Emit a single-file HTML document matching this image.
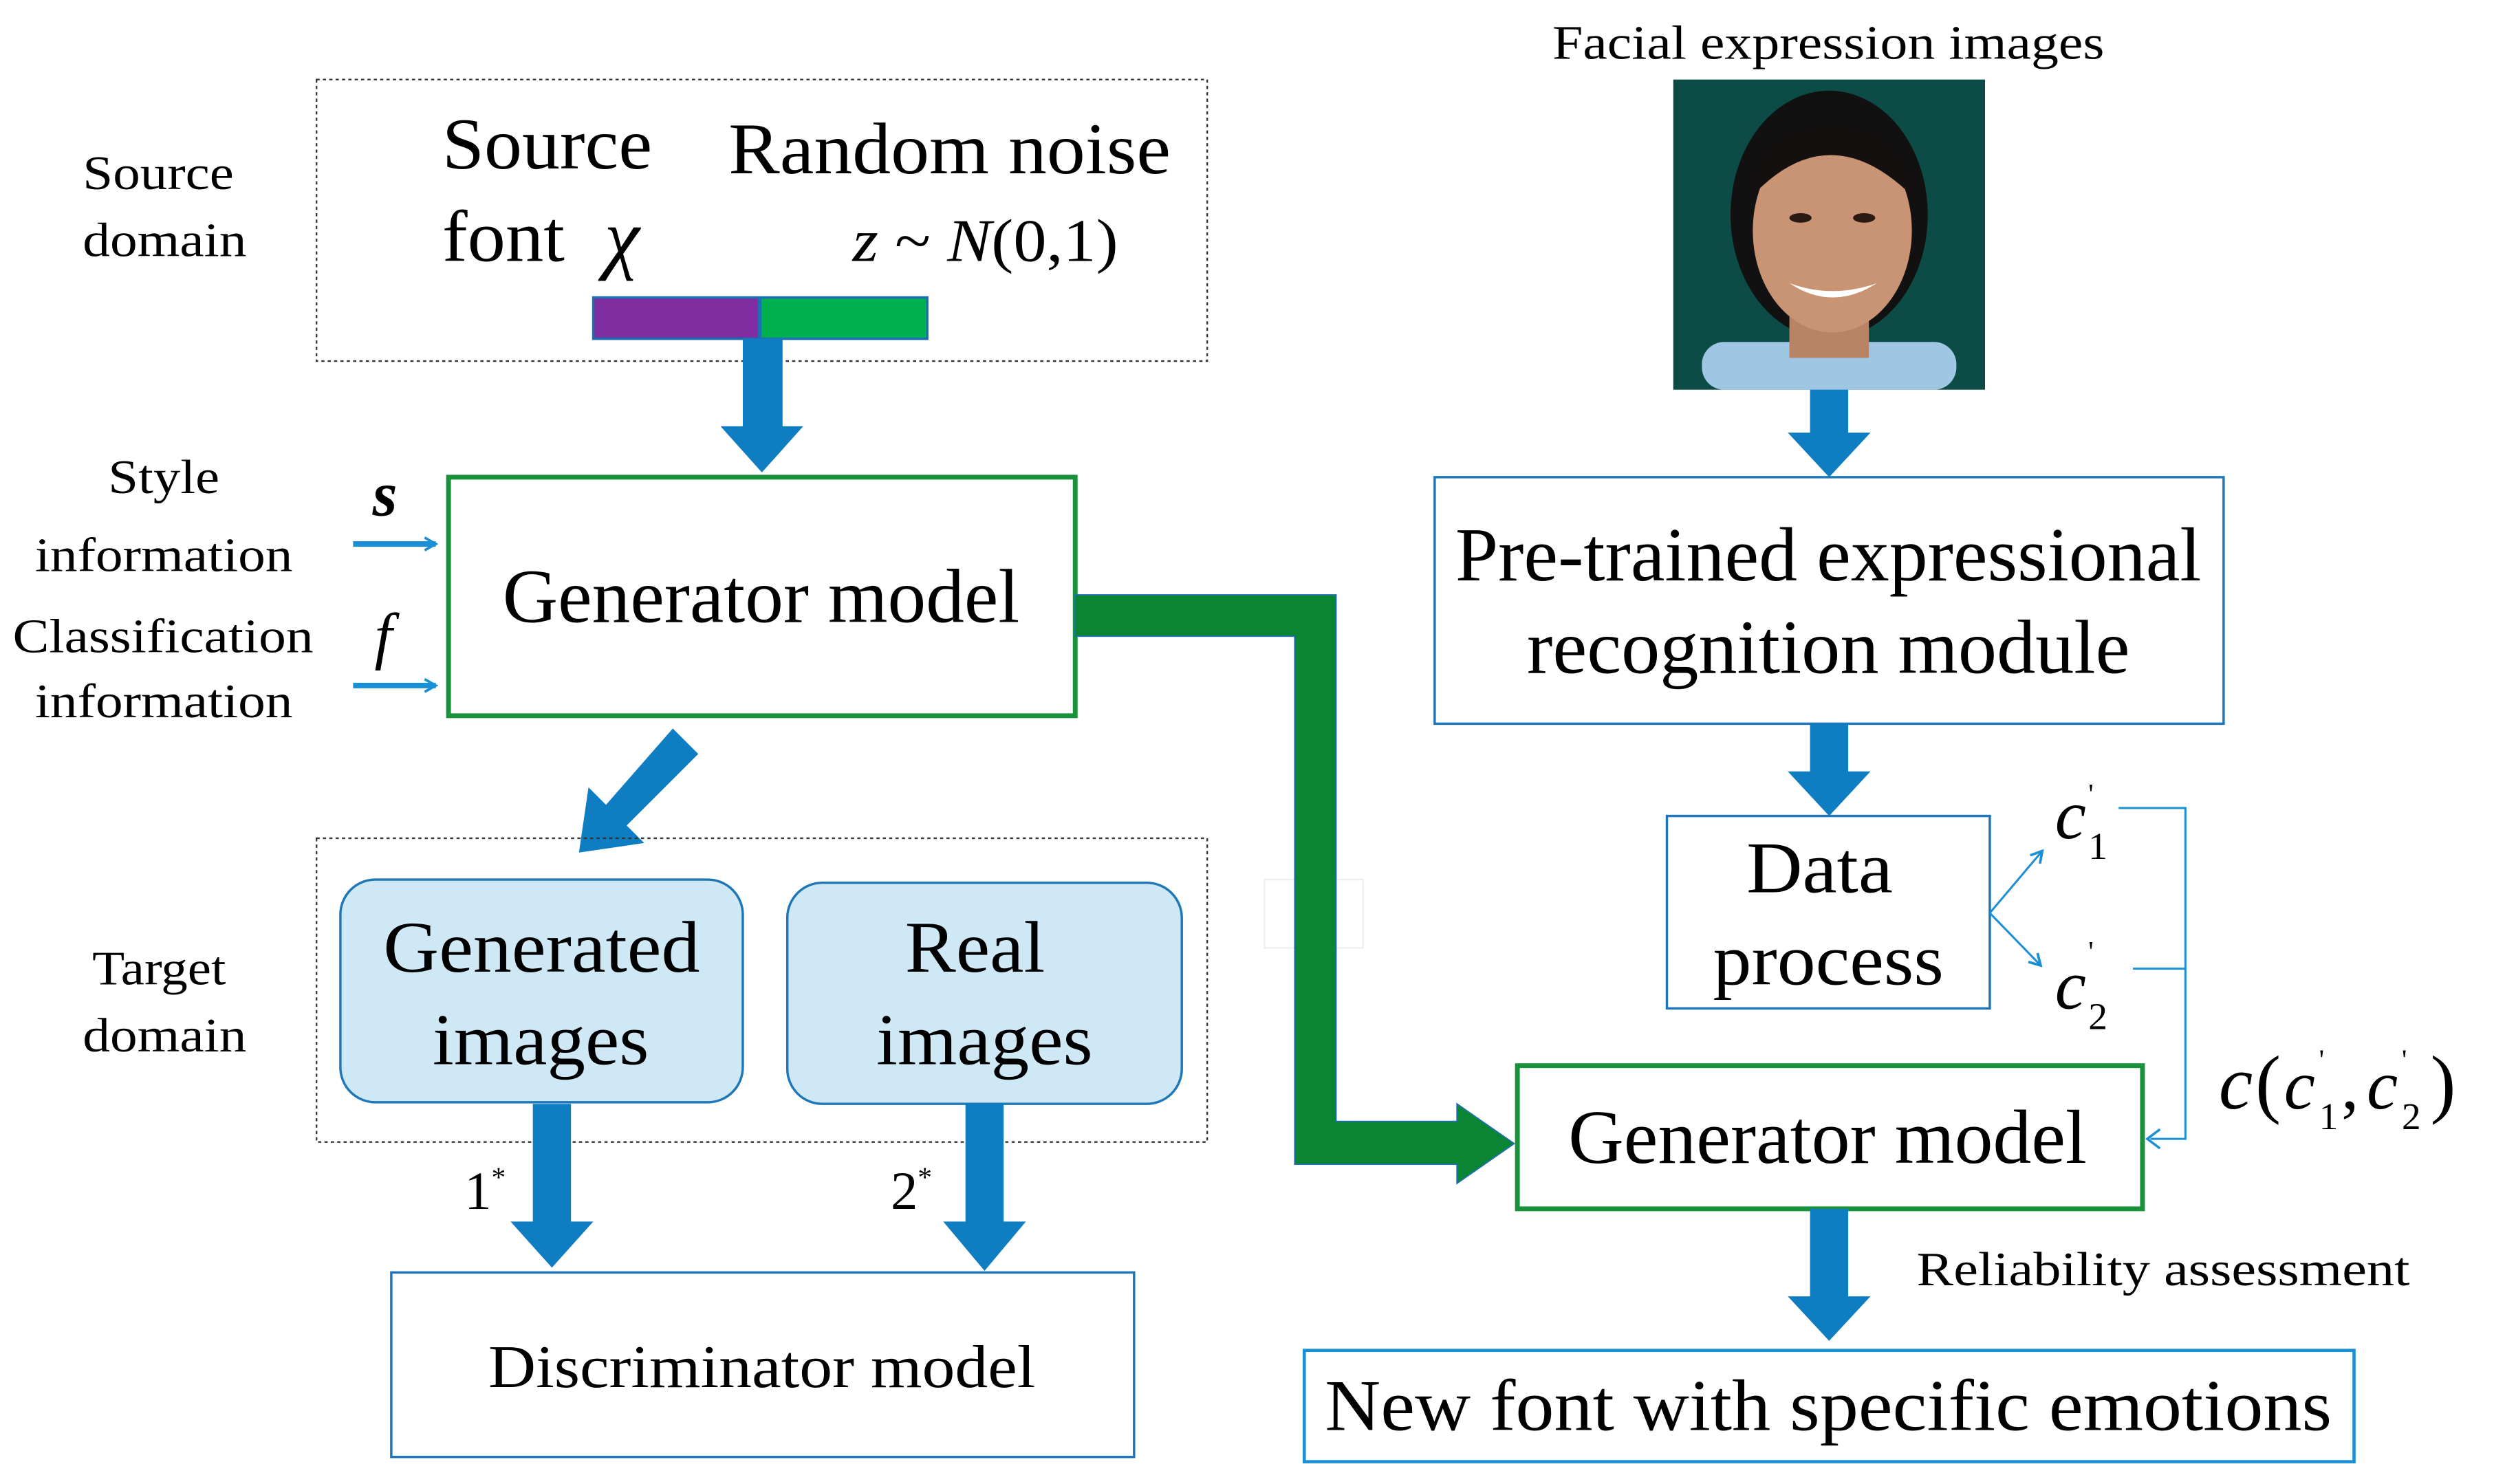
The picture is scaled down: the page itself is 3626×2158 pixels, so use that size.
<!DOCTYPE html>
<html><head><meta charset="utf-8"><style>
html,body{margin:0;padding:0;background:#fff;}
svg{display:block;}
text{font-family:"Liberation Serif",serif;fill:#000;}
</style></head><body>
<svg width="3626" height="2158" viewBox="0 0 1568 933" preserveAspectRatio="none" xmlns="http://www.w3.org/2000/svg">
<defs>
<marker id="ah" markerWidth="10" markerHeight="10" refX="8" refY="5" orient="auto" markerUnits="userSpaceOnUse">
<path d="M1,1 L8,5 L1,9" fill="none" stroke="#1a8fd6" stroke-width="1.6"/></marker>
</defs>
<!-- Source domain -->
<rect x="199" y="50" width="560" height="177" fill="none" stroke="#333" stroke-width="1" stroke-dasharray="2,2"/>
<text x="52" y="119" font-size="30" textLength="95" lengthAdjust="spacingAndGlyphs">Source</text>
<text x="52" y="161" font-size="30" textLength="103" lengthAdjust="spacingAndGlyphs">domain</text>
<text x="278" y="106" font-size="46" textLength="132" lengthAdjust="spacingAndGlyphs">Source</text>
<text x="278" y="164" font-size="46" textLength="77" lengthAdjust="spacingAndGlyphs">font</text>
<text x="380" y="166" font-size="50" font-style="italic">χ</text>
<text x="458" y="109" font-size="46" textLength="278" lengthAdjust="spacingAndGlyphs">Random noise</text>
<text x="536" y="164" font-size="38" textLength="167" lengthAdjust="spacingAndGlyphs"><tspan font-style="italic">z</tspan> ~ <tspan font-style="italic">N</tspan>(0,1)</text>
<rect x="373" y="187" width="104" height="26" fill="#7f2da0" stroke="#1a6fb5" stroke-width="1.5"/>
<rect x="478" y="187" width="105" height="26" fill="#00b050" stroke="#1a6fb5" stroke-width="1.5"/>
<path d="M467,213 H492 V268 H505 L479,297 L453,268 H467 Z" fill="#0f7dc2"/>
<!-- Gen 1 -->
<rect x="282" y="300" width="394" height="150" fill="#fff" stroke="#17923a" stroke-width="3"/>
<text x="316" y="391" font-size="48" textLength="325" lengthAdjust="spacingAndGlyphs">Generator model</text>
<text x="68" y="310" font-size="30" textLength="70" lengthAdjust="spacingAndGlyphs">Style</text>
<text x="22" y="359" font-size="30" textLength="162" lengthAdjust="spacingAndGlyphs">information</text>
<text x="8" y="410" font-size="30" textLength="189" lengthAdjust="spacingAndGlyphs">Classification</text>
<text x="22" y="451" font-size="30" textLength="162" lengthAdjust="spacingAndGlyphs">information</text>
<text x="242" y="324" font-size="40" font-style="italic" font-weight="bold" text-anchor="middle">s</text>
<text x="241" y="413" font-size="40" font-style="italic" text-anchor="middle">f</text>
<line x1="222" y1="342" x2="274" y2="342" stroke="#1a8fd6" stroke-width="3.5" marker-end="url(#ah)"/>
<line x1="222" y1="431" x2="274" y2="431" stroke="#1a8fd6" stroke-width="3.5" marker-end="url(#ah)"/>
<!-- diagonal arrow -->
<path d="M423,458 L439,474 L394,519 L405,530 L364,536 L370,495 L381,506 Z" fill="#0f7dc2"/>
<!-- Target domain -->
<rect x="199" y="527" width="560" height="191" fill="none" stroke="#333" stroke-width="1" stroke-dasharray="2,2"/>
<text x="58" y="619" font-size="30" textLength="84" lengthAdjust="spacingAndGlyphs">Target</text>
<text x="52" y="661" font-size="30" textLength="103" lengthAdjust="spacingAndGlyphs">domain</text>
<rect x="214" y="553" width="253" height="140" rx="22" fill="#cfe8f6" stroke="#1f77b8" stroke-width="1.5"/>
<text x="241" y="611" font-size="46" textLength="199" lengthAdjust="spacingAndGlyphs">Generated</text>
<text x="272" y="669" font-size="46" textLength="136" lengthAdjust="spacingAndGlyphs">images</text>
<rect x="495" y="555" width="248" height="139" rx="22" fill="#cfe8f6" stroke="#1f77b8" stroke-width="1.5"/>
<text x="569" y="611" font-size="46" textLength="88" lengthAdjust="spacingAndGlyphs">Real</text>
<text x="551" y="669" font-size="46" textLength="136" lengthAdjust="spacingAndGlyphs">images</text>
<path d="M335,694 H359 V768 H373 L347,797 L321,768 H335 Z" fill="#0f7dc2"/>
<path d="M607,694 H631 V768 H645 L619,799 L593,768 H607 Z" fill="#0f7dc2"/>
<text x="292" y="760" font-size="34">1<tspan font-size="18" dy="-14">*</tspan></text>
<text x="560" y="760" font-size="34">2<tspan font-size="18" dy="-14">*</tspan></text>
<rect x="246" y="800" width="467" height="116" fill="#fff" stroke="#1f77b8" stroke-width="1.5"/>
<text x="307" y="872" font-size="38" textLength="344" lengthAdjust="spacingAndGlyphs">Discriminator model</text>
<!-- faint box -->
<rect x="795" y="553" width="62" height="43" fill="none" stroke="#eee" stroke-width="1"/>
<!-- green L arrow -->
<path d="M676,374 H840 V705 H916 V694 L952,719 L916,744 V732 H814 V400 H676 Z" fill="#0a8534" stroke="#1f6fb0" stroke-width="0.8"/>
<!-- right side -->
<text x="976" y="37" font-size="30" textLength="347" lengthAdjust="spacingAndGlyphs">Facial expression images</text>
<g>
<rect x="1052" y="50" width="196" height="195" fill="#0d4b46"/>
<ellipse cx="1150" cy="135" rx="62" ry="78" fill="#111"/>
<rect x="1070" y="215" width="160" height="30" rx="14" fill="#9fc6e3"/>
<path d="M1125,185 h50 v40 h-50 z" fill="#b98466"/>
<ellipse cx="1152" cy="145" rx="50" ry="64" fill="#c99473"/>
<path d="M1100,125 Q1150,70 1204,125 Q1200,80 1150,78 Q1102,82 1100,125 Z" fill="#151010"/>
<path d="M1125,178 Q1152,196 1180,178 Q1152,188 1125,178 Z" fill="#fff"/>
<ellipse cx="1132" cy="137" rx="7" ry="3" fill="#2a1a14"/>
<ellipse cx="1172" cy="137" rx="7" ry="3" fill="#2a1a14"/>
</g>
<path d="M1138,245 H1162 V272 H1176 L1150,300 L1124,272 H1138 Z" fill="#0f7dc2"/>
<rect x="902" y="300" width="496" height="155" fill="#fff" stroke="#1f77b8" stroke-width="1.5"/>
<text x="915" y="365" font-size="48" textLength="469" lengthAdjust="spacingAndGlyphs">Pre-trained expressional</text>
<text x="960" y="423" font-size="48" textLength="379" lengthAdjust="spacingAndGlyphs">recognition module</text>
<path d="M1138,455 H1162 V485 H1176 L1150,513 L1124,485 H1138 Z" fill="#0f7dc2"/>
<rect x="1048" y="513" width="203" height="121" fill="#fff" stroke="#1f77b8" stroke-width="1.5"/>
<text x="1098" y="561" font-size="46" textLength="92" lengthAdjust="spacingAndGlyphs">Data</text>
<text x="1077" y="619" font-size="46" textLength="145" lengthAdjust="spacingAndGlyphs">process</text>
<line x1="1251" y1="574" x2="1284" y2="535" stroke="#1a8fd6" stroke-width="1.3" marker-end="url(#ah)"/>
<line x1="1251" y1="574" x2="1283" y2="607" stroke="#1a8fd6" stroke-width="1.3" marker-end="url(#ah)"/>
<text x="1292" y="527" font-size="44" font-style="italic">c</text>
<text x="1313" y="540" font-size="24">1</text>
<text x="1313" y="505" font-size="18">'</text>
<text x="1292" y="634" font-size="44" font-style="italic">c</text>
<text x="1313" y="647" font-size="24">2</text>
<text x="1313" y="604" font-size="18">'</text>
<path d="M1332,508 H1374 V716 H1352 M1341,609 H1374" fill="none" stroke="#1a8fd6" stroke-width="1.3"/>
<path d="M1358,710 L1350,716 L1358,722" fill="none" stroke="#1a8fd6" stroke-width="1.5"/>
<text x="1395" y="697" font-size="48" font-style="italic">c</text>
<text x="1418" y="697" font-size="48">(</text>
<text x="1436" y="697" font-size="44" font-style="italic">c</text>
<text x="1458" y="710" font-size="24">1</text>
<text x="1458" y="672" font-size="18">'</text>
<text x="1472" y="697" font-size="44">,</text>
<text x="1488" y="697" font-size="44" font-style="italic">c</text>
<text x="1510" y="710" font-size="24">2</text>
<text x="1510" y="672" font-size="18">'</text>
<text x="1528" y="697" font-size="48">)</text>
<rect x="954" y="670" width="393" height="90" fill="#fff" stroke="#17923a" stroke-width="3"/>
<text x="986" y="731" font-size="48" textLength="326" lengthAdjust="spacingAndGlyphs">Generator model</text>
<path d="M1138,760 H1162 V815 H1176 L1150,843 L1124,815 H1138 Z" fill="#0f7dc2"/>
<text x="1205" y="808" font-size="30" textLength="310" lengthAdjust="spacingAndGlyphs">Reliability assessment</text>
<rect x="820" y="849" width="660" height="70" fill="#fff" stroke="#1a8fd6" stroke-width="2"/>
<text x="833" y="899" font-size="46" textLength="633" lengthAdjust="spacingAndGlyphs">New font with specific emotions</text>
</svg>
</body></html>
